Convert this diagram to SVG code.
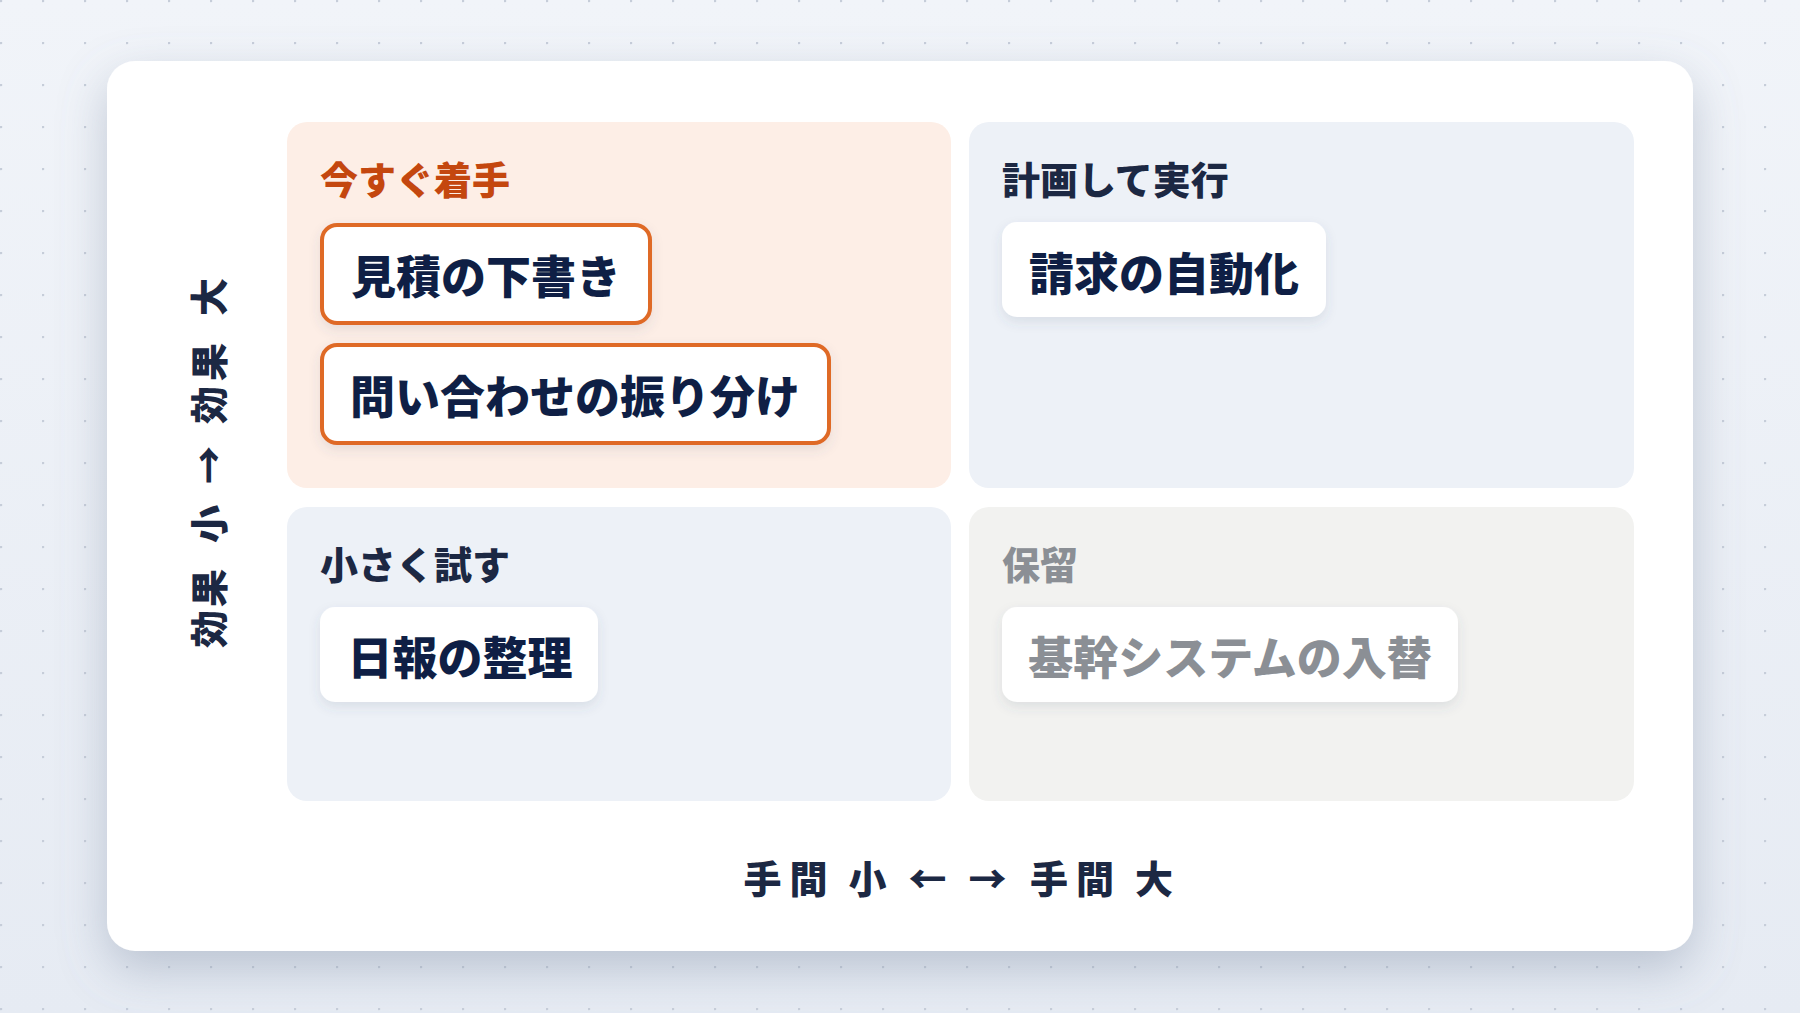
<svg xmlns="http://www.w3.org/2000/svg" width="1800" height="1013" viewBox="0 0 1800 1013">
  <defs>
    <pattern id="dots" x="0" y="0" width="42" height="42" patternUnits="userSpaceOnUse">
      <circle cx="1" cy="1" r="1.3" fill="#c6cdd9"/>
    </pattern>
    <linearGradient id="bg" x1="0" y1="0" x2="0" y2="1">
      <stop offset="0" stop-color="#f1f4f9"/>
      <stop offset="1" stop-color="#e6ebf3"/>
    </linearGradient>
    <filter id="cardShadow" x="-10%" y="-10%" width="120%" height="130%">
      <feDropShadow dx="0" dy="18" stdDeviation="24" flood-color="#6f7f99" flood-opacity="0.38"/>
    </filter>
    <filter id="itemShadow" x="-10%" y="-20%" width="120%" height="160%">
      <feDropShadow dx="0" dy="5" stdDeviation="6" flood-color="#44546f" flood-opacity="0.12"/>
    </filter>
    <style>
      .cjk { font-family: "Noto Sans CJK JP", "Noto Sans", sans-serif; }
      .title { font-size: 38px; font-weight: 900; }
      .item { font-size: 45px; font-weight: 900; fill: #0f1f45; }
      .axis { font-size: 38px; font-weight: 900; fill: #1c2843; }
      .box { fill: #ffffff; filter: url(#itemShadow); }
      .box-hot { fill: #ffffff; stroke: #df6a27; stroke-width: 4; filter: url(#itemShadow); }
      .muted { fill: #8b8f95; }
      .navy { fill: #1c2843; }
      .orange { fill: #c4470f; }
    </style>
  </defs>

  <rect x="0" y="0" width="1800" height="1013" fill="url(#bg)"/>
  <rect x="0" y="0" width="1800" height="1013" fill="url(#dots)"/>

  <rect id="card" x="107" y="61" width="1586" height="890" rx="28" fill="#ffffff" filter="url(#cardShadow)"/>

  <g id="connectors"></g>

  <g id="quadrant-do-now">
    <rect x="287" y="122" width="664" height="366" rx="20" fill="#fdeee6"/>
    <text class="cjk title orange" x="320" y="194">今すぐ着手</text>
  </g>
  <g id="quadrant-plan">
    <rect x="969" y="122" width="665" height="366" rx="20" fill="#edf1f7"/>
    <text class="cjk title navy" x="1002" y="194">計画して実行</text>
  </g>
  <g id="quadrant-try">
    <rect x="287" y="507" width="664" height="294" rx="20" fill="#edf1f7"/>
    <text class="cjk title navy" x="320" y="579">小さく試す</text>
  </g>
  <g id="quadrant-hold">
    <rect x="969" y="507" width="665" height="294" rx="20" fill="#f2f2f0"/>
    <text class="cjk title muted" x="1002" y="579">保留</text>
  </g>

  <g id="item-estimate">
    <rect class="box-hot" x="322" y="225" width="328" height="98" rx="15"/>
    <text class="cjk item" x="486" y="294" text-anchor="middle">見積の下書き</text>
  </g>
  <g id="item-inquiry">
    <rect class="box-hot" x="322" y="345" width="507" height="98" rx="15"/>
    <text class="cjk item" x="575" y="414" text-anchor="middle">問い合わせの振り分け</text>
  </g>
  <g id="item-billing">
    <rect class="box" x="1002" y="222" width="324" height="95" rx="15"/>
    <text class="cjk item" x="1164" y="291" text-anchor="middle">請求の自動化</text>
  </g>
  <g id="item-daily-report">
    <rect class="box" x="320" y="607" width="278" height="95" rx="15"/>
    <text class="cjk item" x="460" y="675" text-anchor="middle">日報の整理</text>
  </g>
  <g id="item-core-system">
    <rect class="box" x="1002" y="607" width="456" height="95" rx="15"/>
    <text class="cjk item" x="1230" y="675" text-anchor="middle" style="fill:#8b8f95">基幹システムの入替</text>
  </g>

  <g id="axis-x">
    <text class="cjk axis" y="893" text-anchor="middle"><tspan x="762.5">手</tspan><tspan x="808.5">間</tspan><tspan x="867.5">小</tspan><tspan x="927.5">←</tspan><tspan x="987.5">→</tspan><tspan x="1049">手</tspan><tspan x="1095">間</tspan><tspan x="1154">大</tspan></text>
  </g>
  <g id="axis-y">
    <text class="cjk axis" transform="rotate(-90)" y="223" text-anchor="middle"><tspan x="-629">効</tspan><tspan x="-588">果</tspan><tspan x="-524">小</tspan><tspan x="-465">→</tspan><tspan x="-405">効</tspan><tspan x="-362">果</tspan><tspan x="-297">大</tspan></text>
  </g>
</svg>
